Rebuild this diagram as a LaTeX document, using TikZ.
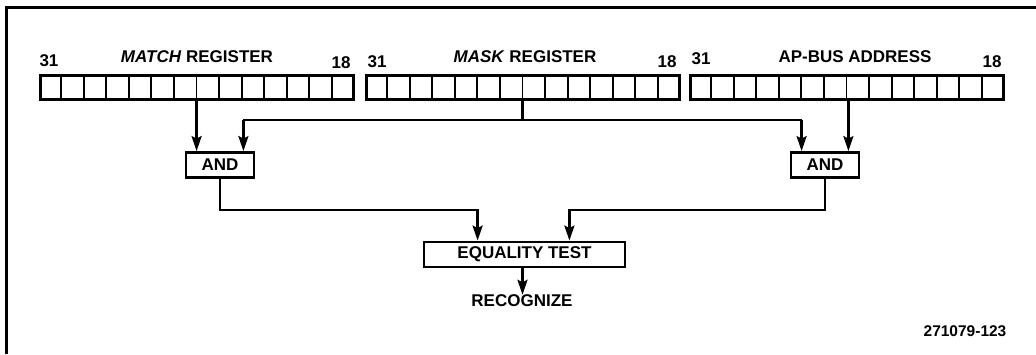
\documentclass[tikz,border=0pt]{standalone}
\usepackage{fontspec}
\setmainfont{Liberation Sans}
\usetikzlibrary{arrows.meta,calc}
\begin{document}
\begin{tikzpicture}[x=1pt,y=-1pt,
  every node/.style={font=\bfseries\fontsize{17}{20}\selectfont},
  reg/.style={draw,line width=3pt,minimum width=313pt,minimum height=24pt,inner sep=0pt},
  cell/.style={line width=1.8pt},
  gate/.style={draw,line width=2.8pt,inner sep=0pt,minimum height=25pt},
  lbl/.style={anchor=base,inner sep=0pt},
  wire/.style={line width=2.5pt},
  arr/.style={wire,-{Stealth[length=15pt,width=10pt,inset=2.5pt]}}]
\useasboundingbox (0,0) rectangle (1036,354);
% frame
\draw[line width=3pt] (6,354) -- (6,7) -- (1036,7);
% registers
\node[reg] (reg1) at (196.5,87) {};
\node[reg] (reg2) at (522.5,87) {};
\node[reg] (reg3) at (846.5,87) {};
\foreach \r in {reg1,reg2,reg3}{
  \foreach \i in {1,...,13}{
    \draw[cell] ($(\r.south west)!\i/14!(\r.south east)$) -- ($(\r.north west)!\i/14!(\r.north east)$);
  }
}
% labels
\node[lbl] (t1) at (197,62) {\textit{MATCH} REGISTER};
\node[lbl] (t2) at (525,62) {\textit{MASK} REGISTER};
\node[lbl] (t3) at (855,62) {AP-BUS ADDRESS};
\node[lbl] (a31) at (49,66) {31};
\node[lbl] (a18) at (341,68) {18};
\node[lbl] (b31) at (377,67) {31};
\node[lbl] (b18) at (667,67) {18};
\node[lbl] (c31) at (701,64) {31};
\node[lbl] (c18) at (992,67) {18};
% gates
\node[gate,minimum width=68pt] (andL) at (220,165) {AND};
\node[gate,minimum width=68pt] (andR) at (825,165) {AND};
\node[gate,minimum width=201pt] (eq) at (524.5,254.5) {EQUALITY TEST};
\node[inner sep=0pt] (rec) at (522,301) {RECOGNIZE};
\node[inner sep=0pt,font=\bfseries\fontsize{15.5}{18}\selectfont] (num) at (965,331) {271079-123};
% connections
\coordinate (aL1) at ([xshift=12pt]andL.north west);
\coordinate (aL2) at ([xshift=-12pt]andL.north east);
\coordinate (aR1) at ([xshift=12pt]andR.north west);
\coordinate (aR2) at ([xshift=-12pt]andR.north east);
\coordinate (e1) at ([xshift=55pt]eq.north west);
\coordinate (e2) at ([xshift=-57pt]eq.north east);
\coordinate (bus) at (0,120);
\coordinate (mid) at (0,210);
\draw[arr] (reg1.south -| aL1) -- (aL1);
\draw[arr] (reg3.south -| aR2) -- (aR2);
\draw[wire] (reg2.south) -- (reg2.south |- bus);
\draw[arr] (bus -| aL2) -- (aL2);
\draw[arr] (bus -| aR1) -- (aR1);
\draw[wire] (bus -| aL2) -- (bus -| aR1);
\draw[arr] (andL.south) -- (andL.south |- mid) -- (mid -| e1) -- (e1);
\draw[arr] (andR.south) -- (andR.south |- mid) -- (mid -| e2) -- (e2);
\draw[arr] ([xshift=-2pt]eq.south) -- ([xshift=-2pt]eq.south |- rec.north);
\end{tikzpicture}
\end{document}
